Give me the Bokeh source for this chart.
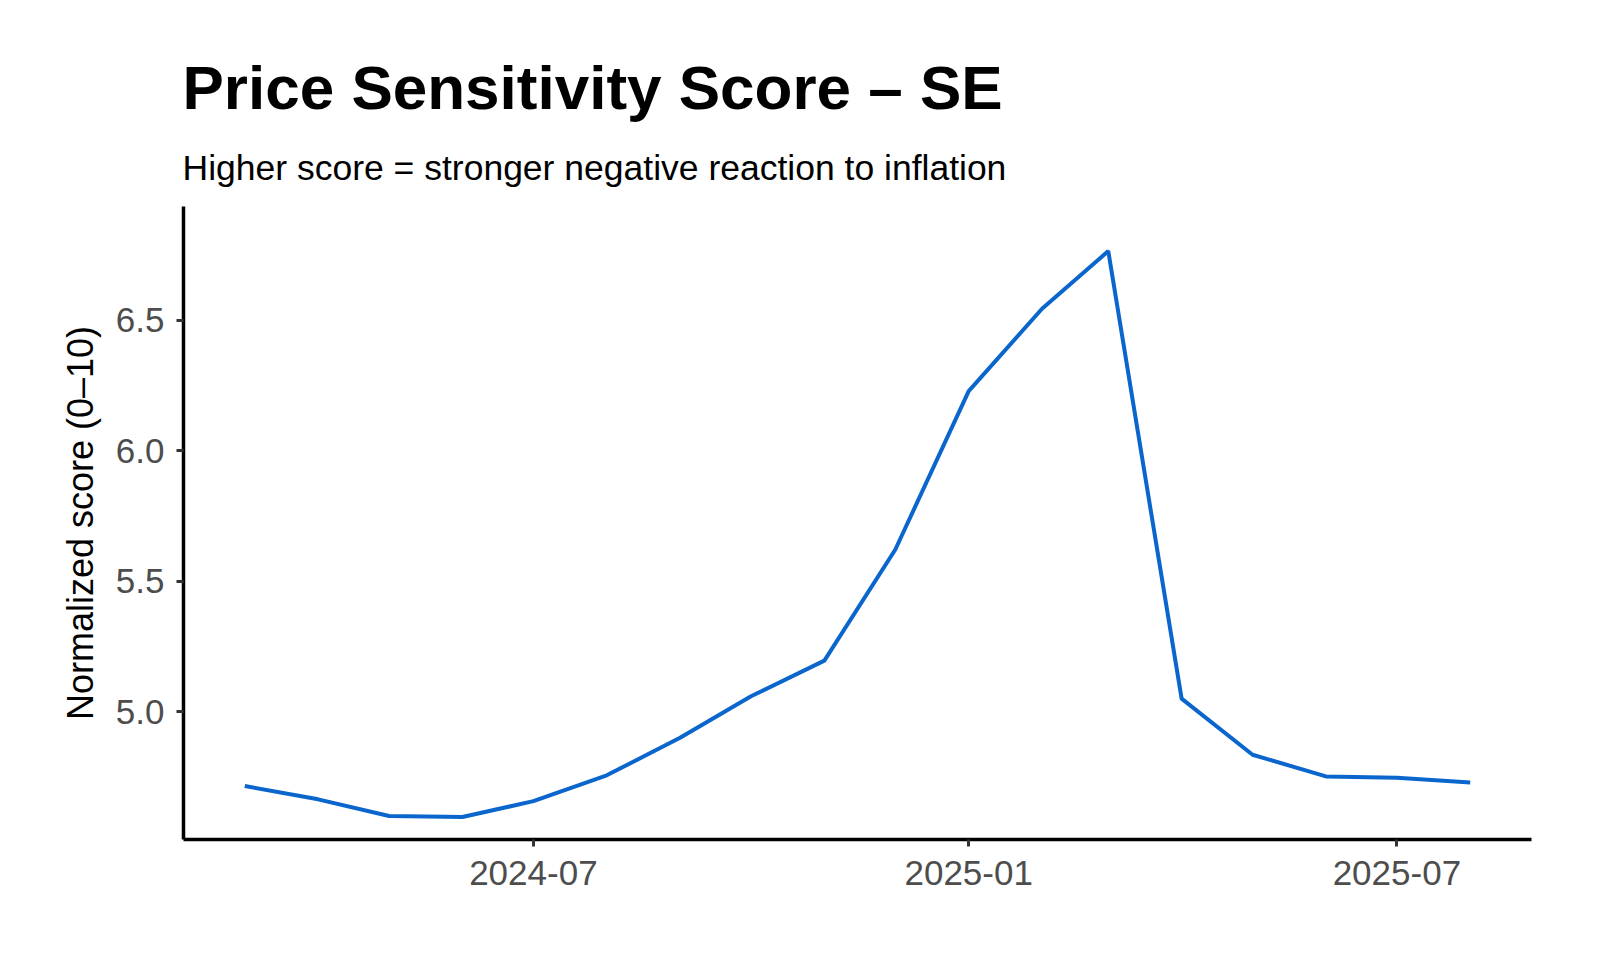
from datetime import datetime
from bokeh.plotting import figure
from bokeh.models import Title, FixedTicker, DatetimeTickFormatter, Range1d, ColumnDataSource, NumeralTickFormatter
from bokeh.embed import file_html
from bokeh.resources import INLINE

months = ["2024-03", "2024-04", "2024-05", "2024-06", "2024-07", "2024-08",
          "2024-09", "2024-10", "2024-11", "2024-12", "2025-01", "2025-02",
          "2025-03", "2025-04", "2025-05", "2025-06", "2025-07", "2025-08"]
scores = [4.715, 4.664, 4.600, 4.596, 4.657, 4.756,
          4.900, 5.059, 5.196, 5.622, 6.229, 6.545,
          6.766, 5.050, 4.835, 4.752, 4.747, 4.729]
x_tick_labels = ["2024-07", "2025-01", "2025-07"]
y_ticks = [5.0, 5.5, 6.0, 6.5]

title_text = "Price Sensitivity Score \u2013 SE"
subtitle_text = "Higher score = stronger negative reaction to inflation"
y_label = "Normalized score (0\u201310)"

dates = [datetime.strptime(m, "%Y-%m") for m in months]
src = ColumnDataSource(dict(x=dates, y=scores))

def ms(d):
    return (d - datetime(1970, 1, 1)).total_seconds() * 1000.0

span = ms(dates[-1]) - ms(dates[0])
x0 = ms(dates[0]) - 0.05 * span
x1 = ms(dates[-1]) + 0.05 * span

W, H = 1584, 944
p = figure(width=W, height=H, output_backend="svg", toolbar_location=None,
           x_axis_type="datetime",
           x_range=Range1d(x0, x1), y_range=Range1d(4.51, 6.937),
           min_border_left=183, min_border_right=53,
           min_border_top=206, min_border_bottom=105)
p.outline_line_color = None
p.grid.visible = False
p.background_fill_color = "white"
p.border_fill_color = "white"

p.line("x", "y", source=src, line_color="#0A66CC", line_width=4)

FONT = "Liberation Sans"
for ax in (p.xaxis[0], p.yaxis[0]):
    ax.axis_line_color = "black"
    ax.axis_line_width = 3.5
    ax.major_tick_line_color = "#333333"
    ax.major_tick_line_width = 3
    ax.major_tick_out = 7
    ax.major_tick_in = 0
    ax.minor_tick_line_color = None
    ax.major_label_text_font = FONT
    ax.major_label_text_font_size = "35px"
    ax.major_label_text_color = "#4d4d4d"

p.xaxis.ticker = FixedTicker(ticks=[ms(datetime.strptime(t, "%Y-%m")) for t in x_tick_labels])
p.xaxis.formatter = DatetimeTickFormatter(months="%Y-%m", days="%Y-%m", years="%Y-%m")
p.xaxis.major_label_standoff = 14

p.yaxis.ticker = FixedTicker(ticks=y_ticks)
p.yaxis.formatter = NumeralTickFormatter(format="0.0")
p.yaxis.major_label_standoff = 12
p.yaxis.axis_label = y_label
p.yaxis.axis_label_text_font = FONT
p.yaxis.axis_label_text_font_size = "36px"
p.yaxis.axis_label_text_font_style = "normal"
p.yaxis.axis_label_text_color = "black"
p.yaxis.axis_label_standoff = 12

sub = Title(text=subtitle_text, align="left", offset=-1, standoff=38,
            text_font=FONT, text_font_size="35.5px", text_font_style="normal",
            text_color="black")
main = Title(text=title_text, align="left", offset=-1, standoff=10,
             text_font=FONT, text_font_size="62px", text_font_style="bold",
             text_color="black")
p.add_layout(sub, "above")
p.add_layout(main, "above")

open("out.html", "w").write(file_html(p, INLINE))
